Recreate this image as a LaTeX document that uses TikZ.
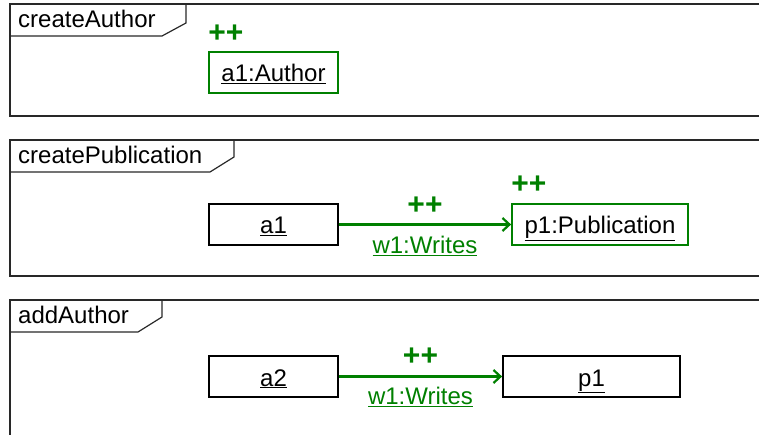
\documentclass[tikz,border=0pt]{standalone}
\usepackage{fontspec}
\setmainfont{Liberation Sans}
\usetikzlibrary{arrows.meta}
\definecolor{newgreen}{RGB}{0,128,0}
\definecolor{framegray}{RGB}{40,40,40}
\begin{document}
\begin{tikzpicture}[x=1pt,y=-1pt,
  frame/.style={draw=framegray, line width=1.2pt},
  title/.style={anchor=base west, inner sep=0pt, font=\fontsize{24}{28}\selectfont},
  obj/.style={draw=black, line width=1.8pt, minimum height=41pt, inner sep=0pt,
    text height=22pt, text depth=3pt, font=\fontsize{24}{28}\selectfont},
  newobj/.style={obj, draw=newgreen},
  plus/.style={text=newgreen, inner sep=0pt, font=\bfseries\fontsize{30}{34}\selectfont},
  link/.style={draw=newgreen, line width=2.2pt,
    -{Straight Barb[length=7pt,width=13pt,line width=2.2pt]}},
  linklabel/.style={text=newgreen, inner sep=0pt, anchor=base, font=\fontsize{24}{28}\selectfont}
]
\useasboundingbox (0,0) rectangle (759,435);
\clip (0,0) rectangle (759,435);

% --- rule: createAuthor ---
\draw[frame] (10,4) rectangle (775,116);
\draw[frame] (10,36) -- (162,36) -- (186,23) -- (186,4);
\node[title] (t1) at (18,28) {createAuthor};
\node[newobj, minimum width=129pt] (ca1) at (273.5,72.5) {\underline{a1:Author}};
\node[plus, anchor=west, yshift=17pt] (ca1plus) at (ca1.north west) {++};

% --- rule: createPublication ---
\draw[frame] (10,140) rectangle (775,276);
\draw[frame] (10,172) -- (210,172) -- (234,157) -- (234,140);
\node[title] (t2) at (18,164) {createPublication};
\node[obj, minimum width=129pt] (cpa1) at (273.5,224.5) {\underline{a1}};
\node[newobj, minimum width=176pt] (cpp1) at (600,224.5) {\underline{p1:Publication}};
\node[plus, anchor=west, yshift=18pt] (cpp1plus) at (cpp1.north west) {++};
\draw[link] (cpa1.east) -- (cpp1.west)
  node[midway, plus, yshift=19pt] (cpwplus) {++}
  node[midway, linklabel, yshift=-29pt] (cpw) {\underline{w1:Writes}};

% --- rule: addAuthor ---
\draw[frame] (10,300) rectangle (775,450);
\draw[frame] (10,332) -- (138,332) -- (162,317) -- (162,300);
\node[title] (t3) at (18,323) {addAuthor};
\node[obj, minimum width=129pt] (aaa2) at (273.5,376.5) {\underline{a2}};
\node[obj, minimum width=177pt] (aap1) at (591.5,376.5) {\underline{p1}};
\draw[link] (aaa2.east) -- (aap1.west)
  node[midway, plus, yshift=20pt] (aawplus) {++}
  node[midway, linklabel, yshift=-28pt] (aaw) {\underline{w1:Writes}};
\end{tikzpicture}
\end{document}
